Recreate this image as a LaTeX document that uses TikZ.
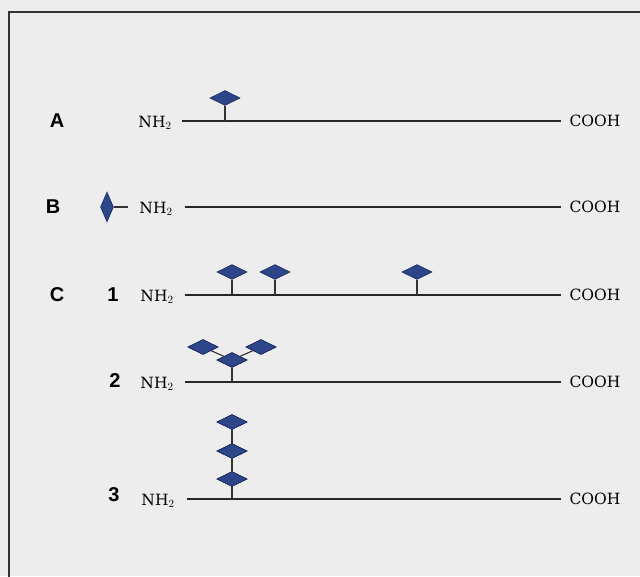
\documentclass[tikz,border=0pt]{standalone}
\usepackage{fontspec}
\setmainfont{DejaVu Serif}
\newfontfamily\labelfont{Liberation Sans}
\usetikzlibrary{shapes.geometric}
\definecolor{paper}{HTML}{EDEDED}
\definecolor{sugar}{HTML}{2C4689}
\definecolor{sugaredge}{HTML}{1A2A5E}
\tikzset{
  chainline/.style={line width=1.1pt, black!85},
  stem/.style={line width=1.1pt, black!80},
  sugarh/.style={diamond, fill=sugar, draw=sugaredge, line width=0.6pt, inner sep=0pt,
    minimum width=30pt, minimum height=15pt},
  sugarv/.style={diamond, fill=sugar, draw=sugaredge, line width=0.6pt, inner sep=0pt,
    minimum width=13pt, minimum height=30pt},
  grouplabel/.style={font=\labelfont\bfseries\fontsize{20}{20}\selectfont, inner sep=0pt},
  term/.style={font=\fontsize{15.5}{15.5}\selectfont, inner sep=0pt}
}
\begin{document}
\begin{tikzpicture}[x=1pt,y=-1pt]
\useasboundingbox (0,0) rectangle (640,576);
\fill[paper] (0,0) rectangle (640,576);
% frame
\draw[line width=1.2pt, black!80] (9,580) -- (9,12) -- (645,12);

% --- A: one glycan on a side chain ---
\node[grouplabel] (la) at (57,121) {A};
\node[term] (na) at (155,123) {NH$_2$};
\node[term] (ca) at (595,121) {COOH};
\coordinate (a0) at (182,121);
\coordinate (a1) at (561,121);
\draw[chainline] (a0) -- (a1);
\coordinate (sa) at (225,121);
\node[sugarh] (da) at (225,98) {};
\draw[stem] (sa) -- (da.south);

% --- B: glycan on the N-terminus ---
\node[grouplabel] (lb) at (53,207) {B};
\node[sugarv] (db) at (107,207) {};
\node[term] (nb) at (156,209) {NH$_2$};
\node[term] (cb) at (595,207) {COOH};
\coordinate (bt) at (128,207);
\draw[stem] (db.east) -- (bt);
\coordinate (b0) at (185,207);
\coordinate (b1) at (561,207);
\draw[chainline] (b0) -- (b1);

% --- C1: several single glycans ---
\node[grouplabel] (lc) at (57,295) {C};
\node[grouplabel] (l1) at (113,295) {1};
\node[term] (n1) at (157,297) {NH$_2$};
\node[term] (c1) at (595,295) {COOH};
\coordinate (c10) at (185,295);
\coordinate (c11) at (561,295);
\draw[chainline] (c10) -- (c11);
\foreach \px [count=\i] in {232,275,417} {
  \coordinate (s1\i) at (\px,295);
  \node[sugarh] (d1\i) at (\px,272) {};
  \draw[stem] (s1\i) -- (d1\i.south);
}

% --- C2: branched glycan ---
\node[grouplabel] (l2) at (115,381) {2};
\node[term] (n2) at (157,384) {NH$_2$};
\node[term] (c2) at (595,382) {COOH};
\coordinate (c20) at (185,382);
\coordinate (c21) at (561,382);
\draw[chainline] (c20) -- (c21);
\coordinate (s2) at (232,382);
\node[sugarh] (d2c) at (232,360) {};
\node[sugarh] (d2l) at (203,347) {};
\node[sugarh] (d2r) at (261,347) {};
\draw[stem] (s2) -- (d2c.south);
\draw[stem] (d2l.center) -- (d2c.center) -- (d2r.center);
\node[sugarh] at (d2c) {};
\node[sugarh] at (d2l) {};
\node[sugarh] at (d2r) {};

% --- C3: linear glycan chain ---
\node[grouplabel] (l3) at (114,495) {3};
\node[term] (n3) at (158,501) {NH$_2$};
\node[term] (c3) at (595,499) {COOH};
\coordinate (c30) at (187,499);
\coordinate (c31) at (561,499);
\draw[chainline] (c30) -- (c31);
\coordinate (s3) at (232,499);
\node[sugarh] (d3a) at (232,479) {};
\node[sugarh] (d3b) at (232,451) {};
\node[sugarh] (d3c) at (232,422) {};
\draw[stem] (s3) -- (d3c.center);
\node[sugarh] at (d3a) {};
\node[sugarh] at (d3b) {};
\node[sugarh] at (d3c) {};
\end{tikzpicture}
\end{document}
